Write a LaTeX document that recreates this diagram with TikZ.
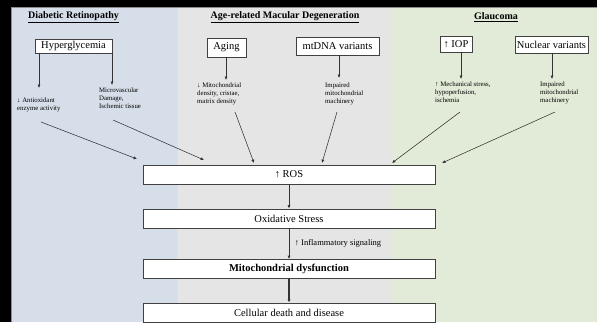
\documentclass[tikz,border=0pt]{standalone}
\usepackage{fontspec}
\setmainfont{Liberation Serif}
\usetikzlibrary{arrows.meta}
\definecolor{pblue}{RGB}{214,222,233}
\definecolor{pgray}{RGB}{229,229,229}
\definecolor{pgreen}{RGB}{225,235,215}
\tikzset{
  cause/.style={draw=black!75, line width=0.9pt, fill=white, inner xsep=2pt, inner ysep=1pt, font=\fontsize{10.5}{12}\selectfont},
  flow/.style={draw=black!75, line width=0.8pt, fill=white, minimum width=292pt, minimum height=19pt, inner sep=0pt, font=\fontsize{10.5}{12}\selectfont},
  small/.style={align=left, font=\fontsize{6.8}{8}\selectfont, inner sep=0pt, anchor=north west},
  ttl/.style={font=\fontsize{10}{12}\selectfont\bfseries},
  arr/.style={-{Latex[length=3.4pt,width=3pt]}, line width=0.55pt, draw=black!80},
}
\begin{document}
\begin{tikzpicture}[x=1pt,y=-1pt]
\useasboundingbox (0,0) rectangle (597,322);
% background
\fill[black] (0,0) rectangle (597,322);
\fill[pblue] (11,7) rectangle (178,322);
\fill[pgray] (178,7) rectangle (392,322);
\fill[pgreen] (392,7) rectangle (597,322);
\draw[black!45, line width=0.8pt] (11,322) -- (11,7) -- (597,7);
% titles
\node[ttl] (t1) at (73.5,17) {\underline{Diabetic Retinopathy}};
\node[ttl] (t2) at (285,17) {\underline{Age-related Macular Degeneration}};
\node[ttl] (t3) at (496,17) {\underline{Glaucoma}};
% cause boxes
\node[cause, minimum width=77pt, minimum height=14pt] (hyp) at (73.5,46) {Hyperglycemia};
\node[cause, minimum width=39pt, minimum height=19pt] (aging) at (226.5,47.5) {Aging};
\node[cause, minimum width=83pt, minimum height=18pt] (mtdna) at (337.5,46) {mtDNA variants};
\node[cause, minimum width=32pt, minimum height=16pt] (iop) at (456,44) {↑ IOP};
\node[cause, minimum width=73pt, minimum height=17pt] (nuc) at (551.5,44.5) {Nuclear variants};
% small effect texts
\node[small] (e1) at (17,98) {↓ Antioxidant\\enzyme activity};
\node[small] (e2) at (99,88) {Microvascular\\Damage,\\Ischemic tissue};
\node[small] (e3) at (197,83) {↓ Mitochondrial\\density, cristae,\\matrix density};
\node[small] (e4) at (325,83) {Impaired\\mitochondrial\\machinery};
\node[small] (e5) at (435,82) {↑ Mechanical stress,\\hypoperfusion,\\ischemia};
\node[small] (e6) at (540,82) {Impaired\\mitochondrial\\machinery};
% vertical arrows
\coordinate (a1) at (39,88);
\coordinate (a2) at (112,85);
\coordinate (a3) at (226,80);
\coordinate (a4) at (339,78);
\coordinate (a5) at (461,79);
\coordinate (a6) at (552,79);
\draw[arr] (hyp.south -| a1) -- (a1);
\draw[arr] (hyp.south -| a2) -- (a2);
\draw[arr] (aging.south -| a3) -- (a3);
\draw[arr] (mtdna.south -| a4) -- (a4);
\draw[arr] (iop.south -| a5) -- (a5);
\draw[arr] (nuc.south -| a6) -- (a6);
% flow boxes
\node[flow] (ros) at (289,174.5) {↑ ROS};
\node[flow] (ox) at (289,218.5) {Oxidative Stress};
\node[flow] (mito) at (289,269) {\bfseries Mitochondrial dysfunction};
\node[flow] (cell) at (289,312.5) {Cellular death and disease};
% diagonal arrows
\coordinate (s1) at (41,122); \coordinate (d1) at (137,159);
\coordinate (s2) at (113,120); \coordinate (d2) at (204,160);
\coordinate (s3) at (235,112); \coordinate (d3) at (254,163);
\coordinate (s4) at (337,112); \coordinate (d4) at (322,163);
\coordinate (s5) at (460,112); \coordinate (d5) at (392,163);
\coordinate (s6) at (555,112); \coordinate (d6) at (442,163);
\foreach \i in {1,...,6} {\draw[arr] (s\i) -- (d\i);}
% flow arrows
\draw[arr, line width=0.7pt] (ros) -- (ox);
\draw[arr, line width=1pt] (ox) -- node[right, font=\fontsize{8.5}{10}\selectfont, xshift=2pt] {↑ Inflammatory signaling} (mito);
\draw[arr, line width=1.1pt] (mito) -- (cell);
\end{tikzpicture}
\end{document}
